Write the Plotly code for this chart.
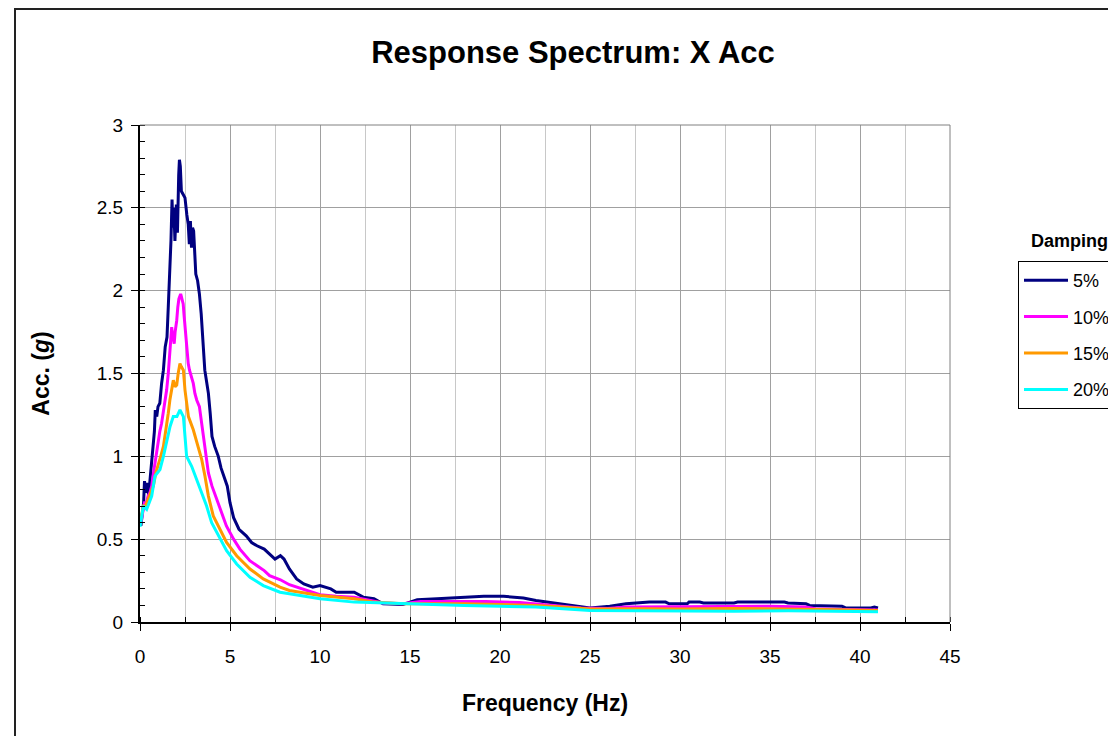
import plotly.graph_objects as go

# ---- data ----
freq_5 = [0.05, 0.12, 0.2, 0.25, 0.32, 0.4, 0.48, 0.55, 0.65, 0.74, 0.8, 0.85, 0.93, 1.0, 1.1, 1.2, 1.3, 1.4, 1.5,
          1.57, 1.65, 1.72, 1.78, 1.83, 1.88, 1.94, 2.02, 2.08, 2.15, 2.19, 2.24, 2.3, 2.4, 2.5, 2.6, 2.68, 2.74,
          2.8, 2.86, 2.92, 2.98, 3.05, 3.1, 3.2, 3.3, 3.4, 3.5, 3.6, 3.7, 3.8, 3.9, 4.0, 4.15, 4.35, 4.5, 4.7,
          4.85, 5.0, 5.2, 5.5, 5.9, 6.2, 6.5, 6.9, 7.2, 7.5, 7.8, 8.0, 8.3, 8.7, 9.1, 9.6, 10.0, 10.6, 10.9, 11.9,
          12.4, 13.0, 13.5, 14.6, 15.0, 15.4, 16.5, 18.0, 19.1, 20.2, 20.6, 21.3, 22.0, 22.6, 23.5, 24.0, 25.0,
          26.1, 27.0, 28.3, 29.2, 29.4, 30.4, 30.5, 31.1, 31.3, 33.0, 33.2, 35.8, 36.0, 37.0, 37.2, 39.0, 39.2,
          40.6, 40.8, 41.0]
acc_5 = [0.58, 0.65, 0.72, 0.85, 0.78, 0.84, 0.76, 0.85, 0.98, 1.06, 1.15, 1.28, 1.24, 1.30, 1.32, 1.44, 1.52, 1.66,
         1.72, 1.90, 2.10, 2.30, 2.55, 2.38, 2.50, 2.30, 2.52, 2.35, 2.70, 2.79, 2.75, 2.60, 2.58, 2.56, 2.46, 2.40,
         2.28, 2.42, 2.26, 2.38, 2.36, 2.22, 2.10, 2.06, 1.98, 1.86, 1.65, 1.52, 1.45, 1.38, 1.26, 1.12, 1.06, 1.00,
         0.93, 0.86, 0.82, 0.72, 0.63, 0.56, 0.52, 0.48, 0.46, 0.44, 0.41, 0.38, 0.40, 0.38, 0.32, 0.26, 0.23, 0.21,
         0.22, 0.20, 0.18, 0.18, 0.15, 0.14, 0.11, 0.105, 0.12, 0.135, 0.14, 0.15, 0.155, 0.155, 0.15, 0.145, 0.13,
         0.12, 0.105, 0.10, 0.085, 0.095, 0.11, 0.12, 0.12, 0.11, 0.11, 0.12, 0.12, 0.115, 0.115, 0.12, 0.12,
         0.115, 0.11, 0.10, 0.095, 0.085, 0.085, 0.09, 0.085]

freq_10 = [0.05, 0.15, 0.25, 0.35, 0.45, 0.55, 0.65, 0.75, 0.83, 0.92, 1.0, 1.1, 1.2, 1.3, 1.4, 1.48, 1.57, 1.62,
           1.67, 1.72, 1.76, 1.8, 1.85, 1.9, 1.95, 2.04, 2.1, 2.16, 2.26, 2.33, 2.4, 2.45, 2.5, 2.55, 2.6, 2.68,
           2.75, 2.85, 2.96, 3.05, 3.15, 3.3, 3.4, 3.5, 3.6, 3.7, 3.8, 4.0, 4.26, 4.5, 4.8, 5.2, 5.55, 6.1, 6.5,
           6.9, 7.2, 7.8, 8.3, 9.1, 10.0, 10.9, 11.9, 12.8, 13.5, 14.6, 15.6, 17.4, 19.2, 21.1, 22.4, 23.5, 24.5,
           26.0, 27.0, 30.0, 33.0, 35.0, 37.0, 37.5, 39.0, 41.0]
acc_10 = [0.60, 0.66, 0.72, 0.72, 0.76, 0.78, 0.82, 0.90, 0.96, 1.03, 1.10, 1.15, 1.20, 1.27, 1.34, 1.40, 1.50, 1.58,
          1.66, 1.74, 1.78, 1.74, 1.70, 1.68, 1.75, 1.82, 1.90, 1.95, 1.98, 1.95, 1.92, 1.85, 1.78, 1.70, 1.64, 1.56,
          1.52, 1.48, 1.44, 1.38, 1.34, 1.30, 1.22, 1.14, 1.06, 0.98, 0.90, 0.82, 0.74, 0.66, 0.58, 0.50, 0.44, 0.37,
          0.34, 0.31, 0.28, 0.255, 0.225, 0.195, 0.165, 0.155, 0.15, 0.13, 0.115, 0.11, 0.123, 0.123, 0.123, 0.117,
          0.105, 0.095, 0.085, 0.082, 0.09, 0.092, 0.095, 0.095, 0.09, 0.08, 0.075, 0.072]

freq_15 = [0.0, 0.1, 0.19, 0.3, 0.46, 0.6, 0.74, 0.88, 1.02, 1.15, 1.3, 1.45, 1.57, 1.66, 1.76, 1.85, 1.95, 2.04,
           2.12, 2.22, 2.3, 2.41, 2.5, 2.6, 2.69, 2.96, 3.24, 3.43, 3.61, 3.8, 4.07, 4.44, 4.81, 5.37, 6.11, 6.85,
           7.78, 8.3, 10.0, 11.9, 13.0, 14.6, 16.0, 18.0, 20.0, 22.0, 23.5, 25.0, 28.0, 30.0, 33.0, 36.0, 38.0, 41.0]
acc_15 = [0.60, 0.66, 0.70, 0.70, 0.74, 0.78, 0.82, 0.90, 0.96, 1.00, 1.06, 1.16, 1.26, 1.34, 1.40, 1.46, 1.42, 1.43,
          1.50, 1.56, 1.54, 1.52, 1.40, 1.30, 1.24, 1.16, 1.06, 0.98, 0.88, 0.76, 0.64, 0.56, 0.48, 0.40, 0.32, 0.26,
          0.21, 0.19, 0.16, 0.14, 0.12, 0.11, 0.11, 0.11, 0.105, 0.10, 0.09, 0.078, 0.08, 0.078, 0.082, 0.08, 0.075,
          0.07]

freq_20 = [0.0, 0.1, 0.19, 0.37, 0.5, 0.65, 0.83, 1.11, 1.3, 1.48, 1.67, 1.85, 2.05, 2.22, 2.41, 2.5, 2.59, 2.87,
           3.15, 3.43, 3.7, 3.98, 4.35, 4.81, 5.37, 6.11, 6.85, 7.78, 8.3, 10.0, 11.9, 14.6, 16.0, 18.0, 20.0, 22.0,
           25.0, 28.0, 30.0, 33.0, 36.0, 38.0, 41.0]
acc_20 = [0.575, 0.64, 0.70, 0.68, 0.72, 0.76, 0.88, 0.92, 1.00, 1.08, 1.18, 1.24, 1.24, 1.28, 1.24, 1.12, 1.00, 0.94,
          0.86, 0.78, 0.70, 0.60, 0.52, 0.43, 0.35, 0.27, 0.22, 0.18, 0.17, 0.14, 0.12, 0.11, 0.105, 0.10, 0.095,
          0.09, 0.07, 0.068, 0.068, 0.065, 0.068, 0.065, 0.062]

series_names = ["5%", "10%", "15%", "20%"]
series_freqs = [freq_5, freq_10, freq_15, freq_20]
series_accs = [acc_5, acc_10, acc_15, acc_20]
series_colors = ["#000080", "#FF00FF", "#FF9900", "#00FFFF"]

x_ticks = [0, 5, 10, 15, 20, 25, 30, 35, 40, 45]
y_ticks = [0, 0.5, 1, 1.5, 2, 2.5, 3]

FONT = "Arial, Liberation Sans, sans-serif"

fig = go.Figure()
for name, fx, ay, col in zip(series_names, series_freqs, series_accs, series_colors):
    fig.add_trace(go.Scatter(x=fx, y=ay, mode="lines", name=name, legendgroup=name,
                             line=dict(color=col, width=3)))

# the page body has an 8px margin: the figure starts at screen (8, 8)
OFF = 8
W, H = 1116 - OFF, 736 - OFF
SL, ST, SR, SB = 140, 125, 950, 622          # plot area in screen pixels
L, T = SL - OFF, ST - OFF
pw, ph = SR - SL, SB - ST
R, B = W - L - pw, H - T - ph


def px_x(p):
    return (p - SL) / pw


def px_y(p):
    return (SB - p) / ph


fig.update_layout(
    width=W, height=H,
    margin=dict(l=L, r=R, t=T, b=B, autoexpand=False, pad=0),
    paper_bgcolor="white", plot_bgcolor="white",
    font=dict(family=FONT, color="black", size=19),
    title=dict(text="Response Spectrum: X Acc", x=(573 - OFF) / W, xref="container", xanchor="center",
               y=1 - (52 - OFF) / H, yref="container", yanchor="middle",
               font=dict(size=31, weight="bold", family=FONT)),
    xaxis=dict(range=[0, 45], tickvals=x_ticks, ticks="outside", ticklen=7, tickwidth=1, tickcolor="black",
               showline=True, linecolor="black", linewidth=2, zeroline=False,
               showgrid=True, gridcolor="#a0a0a0", gridwidth=1,
               minor=dict(dtick=2.5, tick0=0, ticks="inside", ticklen=5, tickcolor="black",
                          showgrid=True, gridcolor="#c8c8c8", gridwidth=1),
               tickfont=dict(size=19), ticklabelstandoff=9,
               title=dict(text="Frequency (Hz)", font=dict(size=23, weight="bold"), standoff=29)),
    yaxis=dict(range=[0, 3], tickvals=y_ticks, ticks="outside", ticklen=7, tickwidth=1, tickcolor="black",
               showline=True, linecolor="black", linewidth=2, zeroline=False,
               showgrid=True, gridcolor="#a0a0a0", gridwidth=1,
               minor=dict(dtick=0.1, tick0=0, ticks="inside", ticklen=5, tickcolor="black", showgrid=False),
               tickfont=dict(size=19), ticklabelstandoff=4,
               title=dict(text="Acc. (<i>g</i>)", font=dict(size=23, weight="bold"), standoff=41)),
    legend=dict(x=px_x(1018), y=px_y(261), xanchor="left", yanchor="top",
                bordercolor="black", borderwidth=1, bgcolor="white",
                font=dict(size=18), tracegroupgap=10, itemwidth=44),
    showlegend=True,
)

# plot-area border (top & right), outer chart frame
fig.add_shape(type="line", xref="paper", yref="paper", x0=0, x1=1, y0=1, y1=1,
              line=dict(color="#808080", width=1))
fig.add_shape(type="line", xref="paper", yref="paper", x0=1, x1=1, y0=0, y1=1,
              line=dict(color="#808080", width=1))
fig.add_shape(type="rect", xref="paper", yref="paper", x0=px_x(15), x1=px_x(1150),
              y0=px_y(760), y1=px_y(9), line=dict(color="#222222", width=2))

fig.add_annotation(text="Damping", xref="paper", yref="paper", x=px_x(1029), y=px_y(241),
                   xanchor="left", yanchor="middle", showarrow=False,
                   font=dict(size=18, weight="bold", family=FONT))

fig.write_html("out.html")
